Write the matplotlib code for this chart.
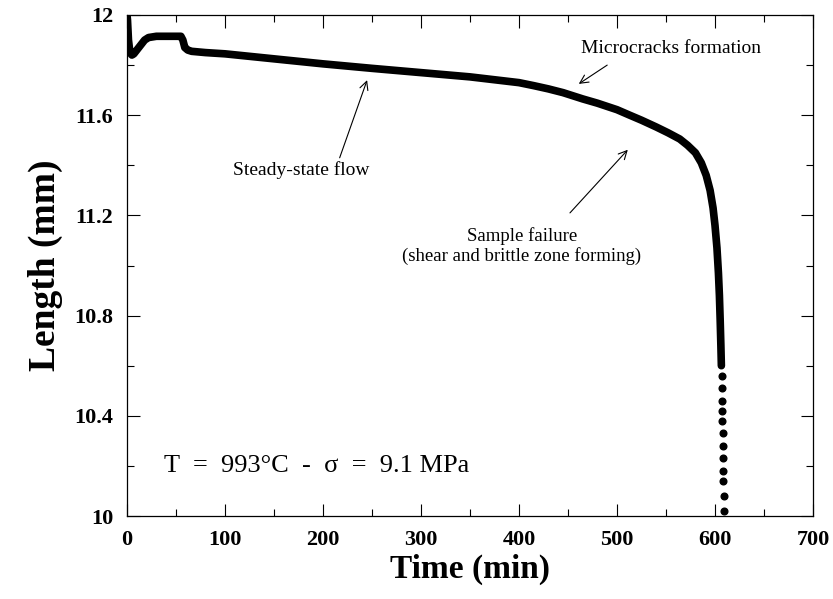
import numpy as np
import matplotlib.pyplot as plt
from matplotlib.ticker import MultipleLocator, FuncFormatter

plt.rcParams['font.family'] = ['Liberation Serif', 'DejaVu Serif']

# creep curve, continuous part (min, mm)
time_min = [0, 0.5, 1.5, 3, 5, 7, 10, 14, 18, 22, 30, 40, 50, 55, 57, 59, 62, 66,
            80, 100, 150, 200, 250, 300, 350, 400, 415, 430, 445, 465, 480, 500,
            513, 525, 540, 552, 564, 572, 580, 586, 591, 595, 598, 600, 602,
            603.5, 604.5, 605.3, 606, 606.5]
length_mm = [12.0, 11.98, 11.90, 11.85, 11.84, 11.845, 11.86, 11.88, 11.90, 11.91,
             11.915, 11.915, 11.915, 11.915, 11.90, 11.87, 11.86, 11.855,
             11.85, 11.845, 11.825, 11.805, 11.787, 11.77, 11.753, 11.73, 11.718,
             11.705, 11.69, 11.665, 11.648, 11.622, 11.60, 11.58, 11.553, 11.53,
             11.505, 11.48, 11.45, 11.41, 11.36, 11.30, 11.23, 11.16, 11.07,
             10.97, 10.88, 10.78, 10.68, 10.6]
# last recorded points before failure
tail_time = [606.8, 607.0, 607.2, 607.4, 607.6, 607.8, 608.0, 608.2, 608.4, 608.6, 608.8, 609.0]
tail_length = [10.56, 10.51, 10.46, 10.42, 10.38, 10.33, 10.28, 10.23, 10.18, 10.14, 10.08, 10.02]

x_ticks = [0, 100, 200, 300, 400, 500, 600, 700]
y_ticks = [10, 10.4, 10.8, 11.2, 11.6, 12]

fig = plt.figure(figsize=(8.33, 5.99), dpi=100)
ax = fig.add_axes([127/833, 1 - 516/599, (813-127)/833, (516-15)/599])

ax.plot(time_min, length_mm, color='black', lw=5.5, solid_capstyle='round',
        solid_joinstyle='round')
ax.plot(tail_time, tail_length, 'o', color='black', ms=4.8)

ax.set_xlim(0, 700)
ax.set_ylim(10, 12)
ax.set_xticks(x_ticks)
ax.set_yticks(y_ticks)
ax.xaxis.set_minor_locator(MultipleLocator(50))
ax.yaxis.set_minor_locator(MultipleLocator(0.2))
ax.yaxis.set_major_formatter(FuncFormatter(lambda v, p: f"{v:g}"))
ax.tick_params(which='both', direction='in', top=True, right=True, width=0.8)
ax.tick_params(which='major', length=9, pad=10)
ax.tick_params(which='minor', length=5)
for lab in ax.get_xticklabels() + ax.get_yticklabels():
    lab.set_fontsize(16)
    lab.set_fontweight('bold')
for s in ax.spines.values():
    s.set_linewidth(0.9)

ax.set_xlabel('Time (min)', fontsize=24, fontweight='bold', labelpad=3)
ax.set_ylabel('Length (mm)', fontsize=27, fontweight='bold', labelpad=8)

arrow = dict(arrowstyle='->', color='black', lw=0.8, shrinkA=0, shrinkB=0,
             mutation_scale=15)
ax.text(178, 11.38, 'Steady-state flow', fontsize=14, ha='center', va='center')
ax.annotate('', xy=(245, 11.74), xytext=(217, 11.43), arrowprops=arrow)

ax.text(463, 11.868, 'Microcracks formation', fontsize=14, ha='left', va='center')
ax.annotate('', xy=(461, 11.725), xytext=(490, 11.80), arrowprops=arrow)

ax.text(403, 11.076, 'Sample failure\n(shear and brittle zone forming)',
        fontsize=13.5, ha='center', va='center', linespacing=1.15)
ax.annotate('', xy=(511, 11.462), xytext=(452, 11.21), arrowprops=arrow)

ax.text(38, 10.2, 'T  =  993°C  -  σ  =  9.1 MPa', fontsize=19, va='center')

fig.savefig('out.png', dpi=100)
